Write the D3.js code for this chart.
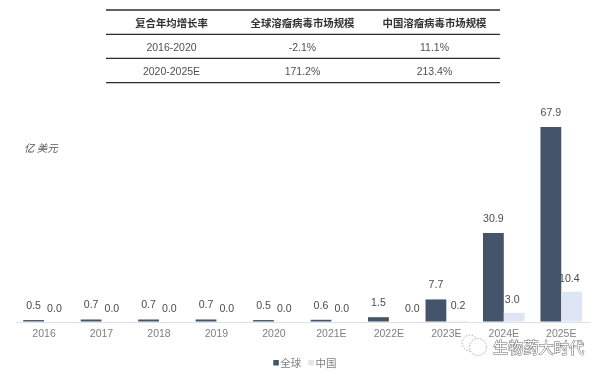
<!DOCTYPE html>
<html>
<head>
<meta charset="utf-8">
<script src="https://cdn.jsdelivr.net/npm/d3@7"></script>
<style>
  html, body { margin: 0; padding: 0; background: #fff; }
  svg { display: block; filter: blur(0.35px); }
</style>
</head>
<body>
<div id="container"></div>
<script>
const years = ['2016','2017','2018','2019','2020','2021E','2022E','2023E','2024E','2025E']
const globalValues = [0.5,0.7,0.7,0.7,0.5,0.6,1.5,7.7,30.9,67.9]
const chinaValues = [0,0,0,0,0,0,0,0.2,3.0,10.4]
const seriesNames = ['全球','中国']
const tableHeader = ['复合年均增长率','全球溶瘤病毒市场规模','中国溶瘤病毒市场规模']
const tableRow1 = ['2016-2020','-2.1%','11.1%']
const tableRow2 = ['2020-2025E','171.2%','213.4%']

const width = 603, height = 373
const latin = '"Liberation Sans", "Noto Sans CJK SC", sans-serif'
const cjk = '"Noto Sans CJK SC", sans-serif'

const svg = d3.select('#container').append('svg')
  .attr('width', width)
  .attr('height', height)

// TABLE
const colX = [171.5, 302.5, 434.5]
const ruleY = [10, 34.3, 58.3, 82.7]
ruleY.forEach(y => {
  svg.append('line')
    .attr('x1', 106).attr('x2', 500)
    .attr('y1', y).attr('y2', y)
    .attr('stroke', '#2b2b2b')
    .attr('stroke-width', 1.3)
})
const rows = [tableHeader, tableRow1, tableRow2]
rows.forEach((row, r) => {
  svg.selectAll('text.row' + r)
    .data(row)
    .enter().append('text')
    .attr('class', 'row' + r)
    .attr('x', (d, i) => colX[i])
    .attr('y', r ? 27 + r * 24 : 26.5)
    .attr('text-anchor', 'middle')
    .attr('font-family', r ? latin : cjk)
    .attr('font-weight', r ? 400 : 700)
    .attr('font-size', r ? 10.5 : 10.4)
    .attr('fill', r ? '#505050' : '#333')
    .text(d => d)
})

// SCALES
const xScale = d3.scaleBand()
  .domain(years)
  .range([15.3, 590])
const barW = 20.8
const yScale = d3.scaleLinear()
  .domain([0, 67.9])
  .range([321.5, 127])

// BARS
const g = svg.append('g')
g.selectAll('rect.global')
  .data(globalValues)
  .enter().append('rect')
  .attr('class', 'global')
  .attr('x', (d, i) => xScale(years[i]) + xScale.bandwidth() / 2 - barW)
  .attr('y', d => yScale(d))
  .attr('width', barW)
  .attr('height', d => yScale(0) - yScale(d))
  .attr('fill', '#44546a')
g.selectAll('rect.china')
  .data(chinaValues)
  .enter().append('rect')
  .attr('class', 'china')
  .attr('x', (d, i) => xScale(years[i]) + xScale.bandwidth() / 2)
  .attr('y', d => yScale(d))
  .attr('width', barW)
  .attr('height', d => yScale(0) - yScale(d))
  .attr('fill', '#dee6f3')

// AXIS
const xAxis = svg.append('g')
  .attr('transform', 'translate(0,322)')
  .call(d3.axisBottom(xScale).tickSize(0).tickPadding(7.5))
xAxis.select('.domain').attr('stroke', '#e0e0e0').attr('stroke-width', 1.2)
xAxis.selectAll('text')
  .attr('font-family', latin)
  .attr('font-size', 10.5)
  .attr('fill', '#7f7f7f')

// VALUE LABELS
const labelStyle = sel => sel
  .attr('text-anchor', 'middle')
  .attr('font-family', latin)
  .attr('font-size', 10.6)
  .attr('fill', '#4d4d4d')
g.selectAll('text.gl')
  .data(globalValues)
  .enter().append('text')
  .attr('class', 'gl')
  .attr('x', (d, i) => xScale(years[i]) + xScale.bandwidth() / 2 - barW / 2)
  .attr('y', d => yScale(d) - 11)
  .call(labelStyle)
  .text(d => d.toFixed(1))
// a few China labels were dragged by hand in the original
const chinaNudgeX = {'2022E': 13, '2023E': 1.3, '2024E': -2, '2025E': -2.3}
const chinaNudgeY = {'2023E': -2}
g.selectAll('text.cl')
  .data(chinaValues)
  .enter().append('text')
  .attr('class', 'cl')
  .attr('x', (d, i) => xScale(years[i]) + xScale.bandwidth() / 2 + barW / 2 + (chinaNudgeX[years[i]] || 0))
  .attr('y', (d, i) => yScale(d) - 10 + (chinaNudgeY[years[i]] || 0))
  .call(labelStyle)
  .text(d => d.toFixed(1))

// UNIT
svg.append('text')
  .attr('x', 24).attr('y', 152)
  .attr('font-family', cjk)
  .attr('font-style', 'italic')
  .attr('font-size', 10.5)
  .attr('fill', '#595959')
  .text('亿 美元')

// LEGEND
const legendColors = ['#44546a', '#dee6f3']
const legendX = [273.3, 308.4]
seriesNames.forEach((name, i) => {
  svg.append('rect')
    .attr('x', legendX[i]).attr('y', 360)
    .attr('width', 5.5).attr('height', 5.5)
    .attr('fill', legendColors[i])
  svg.append('text')
    .attr('x', legendX[i] + 7).attr('y', 367)
    .attr('font-family', cjk)
    .attr('font-size', 10.5)
    .attr('fill', '#7f7f7f')
    .text(name)
})

// WATERMARK
const wm = svg.append('g')
wm.append('circle').attr('cx', 470).attr('cy', 343).attr('r', 8)
  .attr('fill', '#fff').attr('stroke', '#888').attr('stroke-width', 0.7).attr('stroke-dasharray', '1.5 1.5')
wm.append('circle').attr('cx', 478).attr('cy', 347).attr('r', 8.5)
  .attr('fill', '#fff').attr('stroke', '#888').attr('stroke-width', 0.7).attr('stroke-dasharray', '1.5 1.5')
wm.append('text')
  .attr('x', 493).attr('y', 352.5)
  .attr('font-family', cjk)
  .attr('font-size', 15.2)
  .attr('fill', '#fff')
  .attr('stroke', '#666')
  .attr('stroke-width', 1)
  .attr('paint-order', 'stroke')
  .text('生物药大时代')
</script>
</body>
</html>
